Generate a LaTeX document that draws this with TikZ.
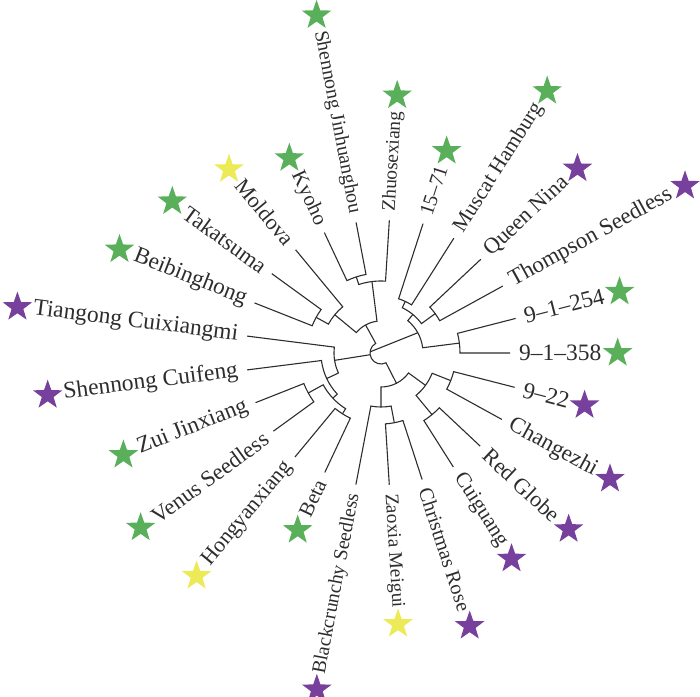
\documentclass[tikz,border=0pt]{standalone}
\usepackage{fontspec}
\setmainfont{Liberation Serif}
\usetikzlibrary{shapes.geometric,calc}
\definecolor{dggreen}{RGB}{90,176,90}
\definecolor{dgpurple}{RGB}{118,64,156}
\definecolor{dgyellow}{RGB}{236,234,86}
\definecolor{dgink}{RGB}{45,45,45}
\tikzset{
  dgline/.style={draw=dgink, line width=1.1pt},
  dglbl/.style={text=dgink, inner sep=1pt},
  dgstar/.style={star, star points=5, star point ratio=2.5, minimum size=31pt,
    inner sep=0pt, draw=none},
}

\begin{document}
\begin{tikzpicture}[x=1pt, y=1pt]
  \useasboundingbox (-381,-343) rectangle (319,353);

  % leaves: tip, label, star
  \foreach \k/\nm/\R/\txt/\clr in {
    0/n9358/129/9–1–358/dggreen, 1/n9254/139/9–1–254/dggreen,
    2/thom/139/Thompson Seedless/dgpurple, 3/qnina/137/Queen Nina/dgpurple,
    4/musc/136/Muscat Hamburg/dggreen, 5/n1571/136/15–71/dggreen,
    6/zhuo/133/Zhuosexiang/dggreen, 7/sjh/133/Shennong Jinhuanghou/dggreen,
    8/kyoho/133/Kyoho/dggreen, 9/mold/134/Moldova/dgyellow,
    10/taka/135/Takatsuma/dggreen, 11/beib/136/Beibinghong/dggreen,
    12/tian/135/Tiangong Cuixiangmi/dgpurple, 13/scui/135/Shennong Cuifeng/dgpurple,
    14/zui/135/Zui Jinxiang/dggreen, 15/venus/133/Venus Seedless/dggreen,
    16/hong/135/Hongyanxiang/dgyellow, 17/beta/132/Beta/dggreen,
    18/black/134/Blackcrunchy Seedless/dgpurple, 19/zaox/132/Zaoxia Meigui/dgyellow,
    20/chris/133/Christmas Rose/dgpurple, 21/cuig/135/Cuiguang/dgpurple,
    22/redg/136/Red Globe/dgpurple, 23/chang/138/Changezhi/dgpurple,
    24/n922/138/9–22/dgpurple}{
    \pgfmathsetmacro\ang{\k*14.4}
    \pgfmathsetmacro\rl{\R+8}
    \pgfmathsetmacro\fs{round(10*(19+4.5*abs(cos(\ang))))/10}
    \pgfmathtruncatemacro\lft{(\ang>90)&&(\ang<270)}
    \coordinate (\nm) at (\ang:\R);
    \ifnum\lft=1
      \node[dglbl, font=\fontsize{\fs}{\fs}\selectfont, rotate=\ang-180, anchor=east]
        (\nm-t) at (\ang:\rl) {\txt};
      \node[dgstar, fill=\clr] (\nm-s) at ($(\nm-t.west)+(\ang:15)$) {};
    \else
      \node[dglbl, font=\fontsize{\fs}{\fs}\selectfont, rotate=\ang, anchor=west]
        (\nm-t) at (\ang:\rl) {\txt};
      \node[dgstar, fill=\clr] (\nm-s) at ($(\nm-t.east)+(\ang:15)$) {};
    \fi
  }

  % clades, from the tips inwards
  \foreach \p/\ang/\rr/\ca/\cb/\na/\nb in {
    cA/108/80/100.8/115.2/sjh/kyoho, cB/97.2/72/86.4/108/zhuo/cA,
    cE/151.2/74/144/158.4/taka/beib, cF/140.4/60/129.6/151.2/mold/cE,
    cD/118.8/32/97.2/140.4/cB/cF,
    cH/7.2/79/0/14.4/n9358/n9254, cJ/36/67/28.8/43.2/thom/qnina,
    cI/64.8/57/57.6/72/musc/n1571, cK/50.4/50/36/64.8/cJ/cI,
    cL/28.8/42/7.2/50.4/cH/cK,
    cS/208.8/83/201.6/216/zui/venus, cT/237.6/72/230.4/244.8/hong/beta,
    cQ/223.2/66/208.8/237.6/cS/cT, cP/205.2/60/187.2/223.2/scui/cQ,
    cG/189/47/172.8/205.2/tian/cP,
    cV/280.8/71/273.6/288/zaox/chris, cU/270/54/259.2/280.8/black/cV,
    cY/309.6/80/302.4/316.8/cuig/redg, cX/338.4/75/331.2/345.6/chang/n922,
    cW/324/55/309.6/338.4/cY/cX, cM/297/34/270/324/cU/cW}{
    \coordinate (\p) at (\ang:\rr);
    \draw[dgline] (\na) -- (\ca:\rr) arc[start angle=\ca, end angle=\cb, radius=\rr pt] -- (\nb);
  }

  % root
  \coordinate (rootL) at (174:11);
  \coordinate (rootG) at (189:11);
  \draw[dgline] (cD) -- (118.8:11) arc[start angle=118.8, end angle=297, radius=11pt] -- (cM);
  \draw[dgline] (cG) -- (rootG);
  \draw[dgline] (cL) -- (rootL);
\end{tikzpicture}
\end{document}
